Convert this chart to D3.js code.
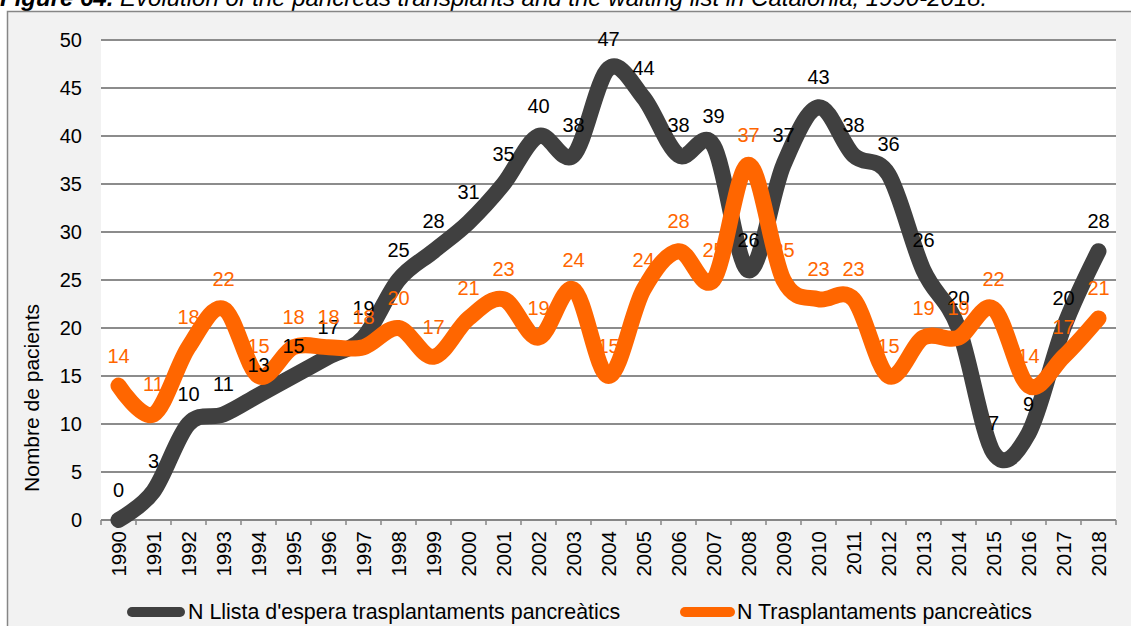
<!DOCTYPE html>
<html>
<head>
<meta charset="utf-8">
<script src="https://cdn.jsdelivr.net/npm/d3@7"></script>
<style>
  body { margin: 0; background: #ffffff; }
  text { font-family: Arial, "Liberation Sans", sans-serif; }
</style>
</head>
<body>
<svg id="chart" width="1131" height="626"></svg>
<script>
// Pancreas transplants and waiting list in Catalonia, 1990-2018
const years = ["1990","1991","1992","1993","1994","1995","1996","1997","1998","1999",
               "2000","2001","2002","2003","2004","2005","2006","2007","2008","2009",
               "2010","2011","2012","2013","2014","2015","2016","2017","2018"];
const waitingList = [0,3,10,11,13,15,17,19,25,28,31,35,40,38,47,44,38,39,26,37,43,38,36,26,20,7,9,20,28];
const transplants = [14,11,18,22,15,18,18,18,20,17,21,23,19,24,15,24,28,25,37,25,23,23,15,19,19,22,14,17,21];
const yTicks = [0,5,10,15,20,25,30,35,40,45,50];
const seriesNames = ["N Llista d'espera trasplantaments pancreàtics", "N Trasplantaments pancreàtics"];
const titleBold = "Figure 64.";
const titleRest = " Evolution of the pancreas transplants and the waiting list in Catalonia, 1990-2018.";
const yTitle = "Nombre de pacients";

const colWait = "#404040";
const colTrans = "#ff6600";
const fontFamily = "Arial, 'Liberation Sans', sans-serif";

const svg = d3.select("#chart");

// Title (partly above the visible area)
const title = svg.append("text").attr("x", 0).attr("y", 6)
  .attr("font-size", 24).attr("font-style", "italic").attr("fill", "#000");
title.append("tspan").attr("font-weight", "bold").text(titleBold);
title.append("tspan").text(titleRest);

// Chart frame
svg.append("rect").attr("x", 7.5).attr("y", 11.5).attr("width", 1140).attr("height", 630)
  .attr("fill", "#f2f2f2").attr("stroke", "#868686").attr("stroke-width", 1.5);

const plotL = 101, plotR = 1116, plotT = 40, plotB = 520;

svg.append("rect").attr("x", plotL).attr("y", plotT).attr("width", plotR - plotL).attr("height", plotB - plotT)
  .attr("fill", "#ffffff");

const x = d3.scaleBand().domain(years).range([plotL, plotR]);
const cx = d => x(d) + x.bandwidth() / 2;
const y = d3.scaleLinear().domain([0, 50]).range([plotB, plotT]);

// Horizontal gridlines
svg.append("g").selectAll("line").data(yTicks.filter(t => t > 0)).join("line")
  .attr("x1", plotL).attr("x2", plotR)
  .attr("y1", d => y(d)).attr("y2", d => y(d))
  .attr("stroke", "#8c8c8c").attr("stroke-width", 2);

// Y axis labels
const yAxis = svg.append("g").attr("transform", `translate(${plotL},0)`)
  .call(d3.axisLeft(y).tickValues(yTicks).tickSize(0).tickPadding(19));
yAxis.select(".domain").remove();
yAxis.selectAll("text").attr("font-size", 20).attr("fill", "#000").style("font-family", fontFamily);

// X axis: baseline, boundary ticks, rotated year labels
const xAxis = svg.append("g").attr("transform", `translate(0,${plotB})`)
  .call(d3.axisBottom(x).tickSize(0));
xAxis.select(".domain").remove();
xAxis.selectAll("text")
  .attr("transform", "rotate(-90)")
  .attr("x", -11).attr("y", 0).attr("dy", "0.35em")
  .attr("text-anchor", "end")
  .attr("font-size", 20.5).attr("fill", "#000")
  .style("font-family", fontFamily);
xAxis.append("line").attr("x1", plotL).attr("x2", plotR).attr("y1", 0).attr("y2", 0)
  .attr("stroke", "#868686").attr("stroke-width", 2);
xAxis.append("g").selectAll("line").data(years.concat(["end"])).join("line")
  .attr("x1", (d, i) => i < years.length ? x(d) : plotR)
  .attr("x2", (d, i) => i < years.length ? x(d) : plotR)
  .attr("y1", 0).attr("y2", 5)
  .attr("stroke", "#868686").attr("stroke-width", 1.5);

// Y axis title
svg.append("text")
  .attr("transform", "translate(32,398) rotate(-90)")
  .attr("text-anchor", "middle").attr("dy", "0.35em")
  .attr("font-size", 21).attr("fill", "#000").text(yTitle);

const line = d3.line().x((d, i) => cx(years[i])).y(d => y(d)).curve(d3.curveCardinal.tension(0));

function drawLine(values, color) {
  svg.append("path").datum(values).attr("d", line)
    .attr("fill", "none").attr("stroke", color).attr("stroke-width", 16)
    .attr("stroke-linecap", "round").attr("stroke-linejoin", "round");
}
function drawLabels(values, color) {
  svg.append("g").selectAll("text").data(values).join("text")
    .attr("x", (d, i) => cx(years[i]))
    .attr("y", d => y(d) - 23)
    .attr("text-anchor", "middle")
    .attr("font-size", 20).attr("fill", color)
    .text(d => d);
}

drawLine(waitingList, colWait);
drawLine(transplants, colTrans);
drawLabels(waitingList, "#000");
drawLabels(transplants, colTrans);

// Legend
const legend = [
  { name: seriesNames[0], color: colWait, x1: 132, x2: 180, tx: 188 },
  { name: seriesNames[1], color: colTrans, x1: 685, x2: 730, tx: 737 }
];
const lg = svg.append("g");
legend.forEach(l => {
  lg.append("line").attr("x1", l.x1).attr("x2", l.x2).attr("y1", 612).attr("y2", 612)
    .attr("stroke", l.color).attr("stroke-width", 10).attr("stroke-linecap", "round");
  lg.append("text").attr("x", l.tx).attr("y", 619).attr("font-size", 21.4).attr("fill", "#000").text(l.name);
});
</script>
</body>
</html>
